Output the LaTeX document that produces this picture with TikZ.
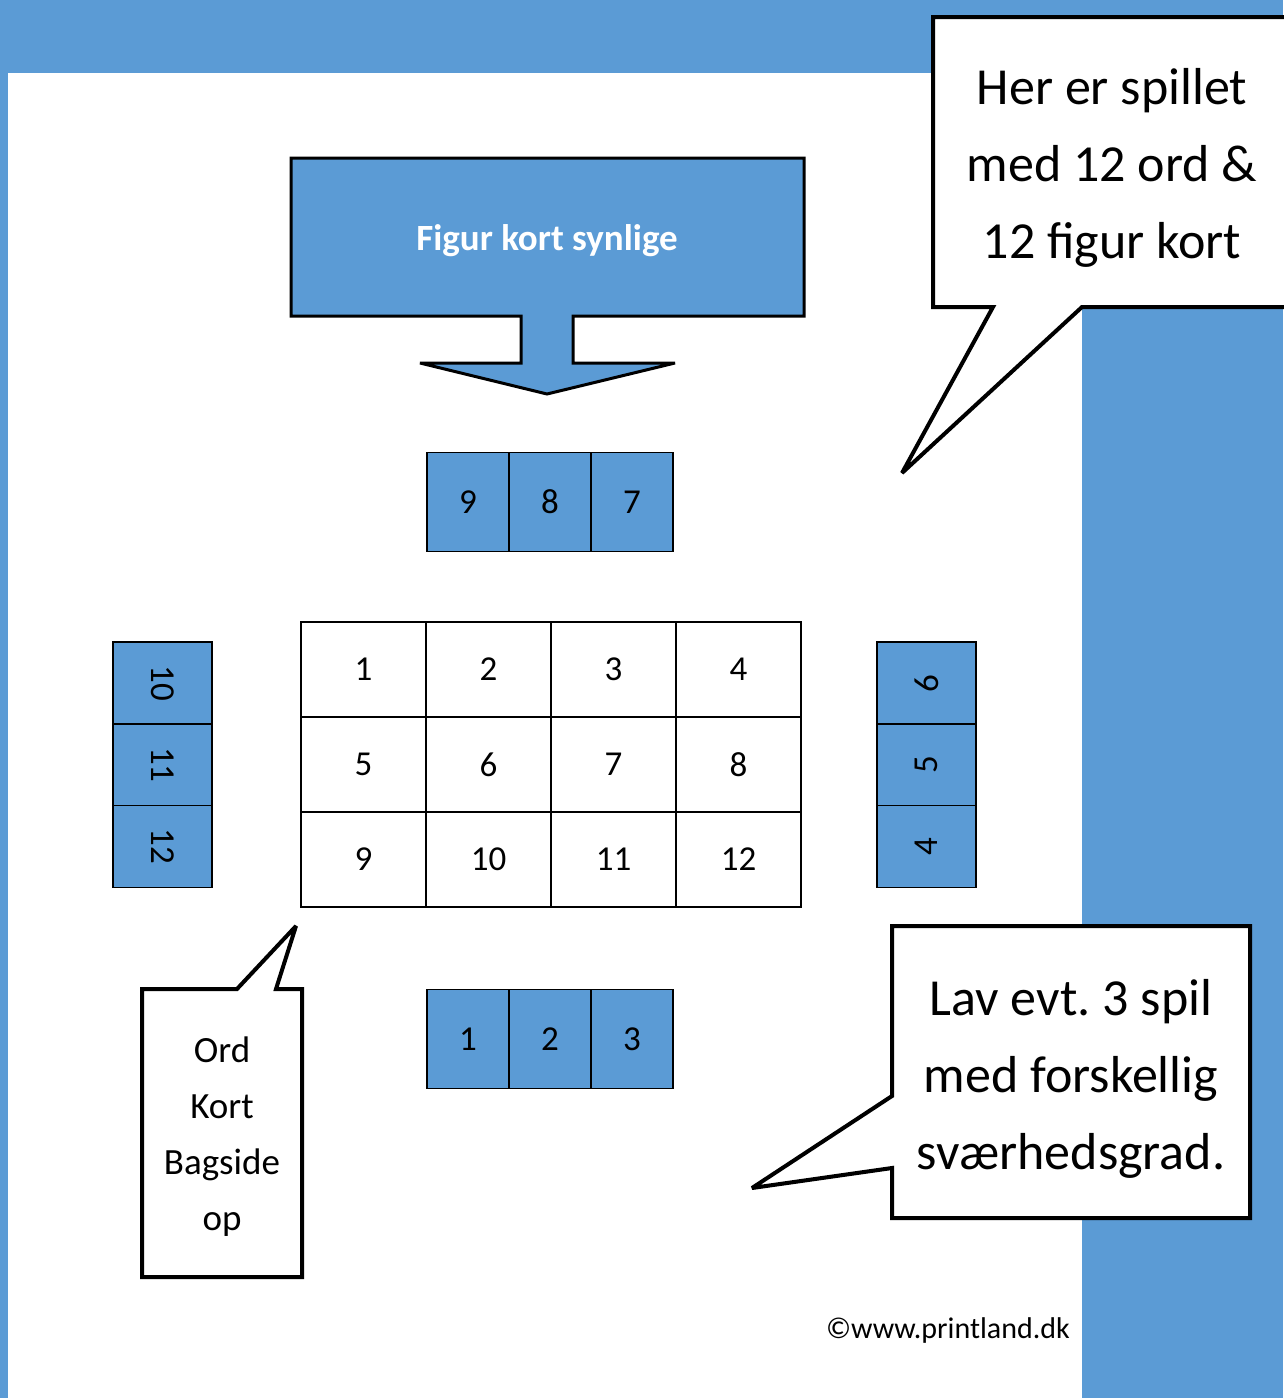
\documentclass[tikz,border=0pt]{standalone}
\usepackage{fontspec}
\setmainfont{Carlito}
\usepackage{tikz}
\definecolor{cardblue}{HTML}{5B9BD5}
\frenchspacing

\begin{document}
\begin{tikzpicture}[x=1pt, y=-1pt,
  card/.style={draw=black, fill=cardblue, line width=1.5pt, minimum width=82pt, minimum height=99pt, inner sep=0pt, font=\fontsize{35}{42}\selectfont},
  cell/.style={draw=black, fill=white, line width=1.5pt, minimum width=125pt, minimum height=95pt, inner sep=0pt, font=\fontsize{35}{42}\selectfont},
  bubble/.style={draw=black, fill=white, line width=4pt, line join=miter, miter limit=3}]
\useasboundingbox (0,0) rectangle (1283,1398);
% blue frame
\fill[cardblue] (0,0) rectangle (1283,73);
\fill[cardblue] (0,0) rectangle (8,1398);
\fill[cardblue] (1082,0) rectangle (1283,1398);
% arrow with title
\draw[fill=cardblue, line width=3pt, line join=miter, miter limit=2] (291,158)--(804,158)--(804,316)--(573,316)--(573,363)--(675,363)--(547,394)--(420,363)--(521,363)--(521,316)--(291,316)--cycle;
\path
(547,241) node[text=white, font=\fontsize{37}{44}\selectfont\bfseries] (banner) {Figur kort synlige};
% cards on the table
\foreach \n [count=\i] in {9,8,7} \node[card] (top\i) at (386+82*\i, 502) {\n};
\foreach \n [count=\i] in {1,2,3} \node[card] (bot\i) at (386+82*\i, 1039) {\n};
\foreach \n [count=\i] in {10,11,12} \node[card, rotate=-90] (left\i) at (162.5, 601.5+81.7*\i) {\n};
\foreach \n [count=\i] in {6,5,4} \node[card, rotate=90] (right\i) at (926.5, 601.5+81.7*\i) {\n};
\foreach \r in {0,1,2}
  \foreach \c in {1,2,3,4} {
    \pgfmathtruncatemacro{\k}{4*\r+\c}
    \node[cell] (cell\k) at (238.5+125*\c, 669.5+95*\r) {\raisebox{-2pt}{\k}};
  }
% speech bubbles
\draw[bubble] (1300,307)--(1082,307)--(902,473)--(993,307)--(933,307)--(933,17)--(1300,17);
\path
(1112,168) node[align=center, font=\fontsize{52}{77}\selectfont] (note1) {Her er spillet\\med 12 ord \&\\12 figur kort};
\draw[bubble] (142,989)--(237,989)--(296,926)--(276,989)--(302,989)--(302,1277)--(142,1277)--cycle;
\path
(222,1137) node[align=center, font=\fontsize{37}{56}\selectfont] (note2) {Ord\\Kort\\Bagside\\op};
\draw[bubble] (892,926)--(1250,926)--(1250,1218)--(892,1218)--(892,1168)--(752,1188)--(892,1096)--cycle;
\path
(1071,1079) node[align=center, font=\fontsize{52}{77}\selectfont] (note3) {Lav evt. 3 spil\\med forskellig\\sværhedsgrad.};
\path
(826,1338) node[anchor=base west, inner sep=0pt, font=\fontsize{30}{36}\selectfont] (copy) {©www.printland.dk};
\end{tikzpicture}
\end{document}
